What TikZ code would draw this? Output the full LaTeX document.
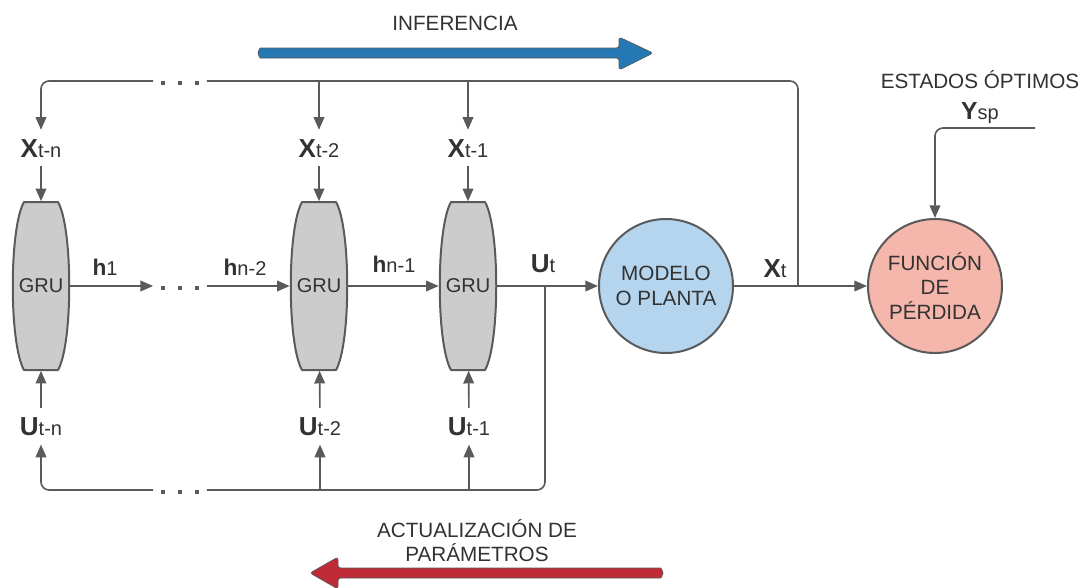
\documentclass[tikz,border=0pt]{standalone}
\usepackage{fontspec}
\setmainfont{Liberation Sans}
\usetikzlibrary{arrows.meta,calc,backgrounds}

\definecolor{wire}{RGB}{90,90,90}
\definecolor{ink}{RGB}{50,50,50}
\definecolor{grufill}{RGB}{204,204,204}
\definecolor{plantfill}{RGB}{181,213,238}
\definecolor{lossfill}{RGB}{245,182,171}
\definecolor{infblue}{RGB}{38,120,180}
\definecolor{updred}{RGB}{190,42,54}

% bold variable with a plain subscript on the same baseline
\newcommand{\varlab}[2]{{\fontsize{19.5}{21}\selectfont\bfseries #1}{\fontsize{15}{16}\selectfont #2}}
\newcommand{\hidlab}[2]{{\fontsize{17}{18}\selectfont\bfseries #1}{\fontsize{15}{16}\selectfont #2}}

% barrel-shaped GRU body around a node
\newcommand{\grubody}[1]{%
  \filldraw[fill=grufill, draw=wire, line width=1.5pt, line join=round]
    ([shift={(-17,-84)}]#1.center) -- ([shift={(17,-84)}]#1.center)
    .. controls ([shift={(32,-58)}]#1.center) and ([shift={(32,58)}]#1.center) .. ([shift={(17,84)}]#1.center)
    -- ([shift={(-17,84)}]#1.center)
    .. controls ([shift={(-32,58)}]#1.center) and ([shift={(-32,-58)}]#1.center) .. cycle;}

% three square dots inside an ellipsis node
\newcommand{\threedots}[1]{%
  \foreach \dx in {-17,0,17}{\fill[wire] ($(#1.center)+(\dx,2)$) +(-2.4,-2.4) rectangle +(2.4,2.4);}}

\begin{document}
\begin{tikzpicture}[x=0.75pt,y=-0.75pt,
  wireline/.style={draw=wire, line width=1.2pt},
  arr/.style={wireline, -{Triangle[length=9.5pt,width=8pt]}},
  lab/.style={inner sep=0pt, outer sep=7pt, text=ink, anchor=base},
  cell/.style={minimum width=42.75pt, minimum height=126pt, inner sep=0pt, outer sep=0.6pt,
               text=ink, font=\fontsize{15}{15}\selectfont},
  blob/.style={circle, draw=wire, line width=1.5pt, minimum size=100.5pt, inner sep=0pt,
               align=center, text=ink, font=\fontsize{15.5}{18.4}\selectfont},
  ellip/.style={minimum width=40pt, minimum height=6pt, inner sep=0pt},
  ttl/.style={text=ink, font=\fontsize{15.5}{18}\selectfont, inner sep=0pt, anchor=base},
  bigarrow/.style={draw=wire, line width=0.5pt, line join=round, rounded corners=2}]

\useasboundingbox (0,0) rectangle (1086,587);

% GRU cells
\node[cell] (gru1) at (41,286) {GRU};
\node[cell] (gru2) at (319,286) {GRU};
\node[cell] (gru3) at (468,286) {GRU};
\begin{scope}[on background layer]
  \fill[white] (0,0) rectangle (1086,587);
  \grubody{gru1}\grubody{gru2}\grubody{gru3}
\end{scope}

% plant and loss
\node[blob, fill=plantfill] (plant) at (666,286) {MODELO\\O PLANTA};
\node[blob, fill=lossfill] (loss) at (935,286) {FUNCIÓN\\DE\\PÉRDIDA};

% input labels
\node[lab] (x1) at (41,157) {\varlab{X}{t-n}};
\node[lab] (x2) at (319,157) {\varlab{X}{t-2}};
\node[lab] (x3) at (468,157) {\varlab{X}{t-1}};
\node[lab] (u1) at (41,435) {\varlab{U}{t-n}};
\node[lab] (u2) at (320,435) {\varlab{U}{t-2}};
\node[lab] (u3) at (469,435) {\varlab{U}{t-1}};

% hidden-state and output labels
\node[lab] (h1) at (105,275) {\hidlab{h}{1}};
\node[lab] (h2) at (245,275) {\hidlab{h}{n-2}};
\node[lab] (h3) at (394,272) {\hidlab{h}{n-1}};
\node[lab] (ut) at (543,272) {\varlab{U}{t}};
\node[lab] (xt) at (775,277) {\varlab{X}{t}};

% ellipses
\node[ellip] (dt) at (180,81) {};
\node[ellip] (dh) at (180,286) {};
\node[ellip] (db) at (180,490) {};
\threedots{dt}\threedots{dh}\threedots{db}

% junctions and free ends
\coordinate (ju) at (545,286);
\coordinate (jx) at (798,286);
\coordinate (ys) at (1035,128);

% forward chain
\draw[arr] (gru1) -- (dh);
\draw[arr] (dh) -- (gru2);
\draw[arr] (gru2) -- (gru3);
\draw[arr] (gru3) -- (plant);
\draw[arr] (plant) -- (loss);

% state feedback along the top
\draw[wireline, rounded corners=6] (jx) |- (dt.east);
\draw[arr, rounded corners=6] (dt.west) -| (x1.north);
\draw[arr] (x2.north |- dt) -- (x2);
\draw[arr] (x3.north |- dt) -- (x3);
\draw[arr] (x1) -- (gru1);
\draw[arr] (x2) -- (gru2);
\draw[arr] (x3) -- (gru3);

% control feedback along the bottom
\draw[wireline, rounded corners=6] (ju) |- (db.east);
\draw[arr, rounded corners=6] (db.west) -| (u1.south);
\draw[arr] (u2.south |- db) -- (u2);
\draw[arr] (u3.south |- db) -- (u3);
\draw[arr] (u1) -- (gru1);
\draw[arr] (u2) -- (gru2);
\draw[arr] (u3) -- (gru3);

% set-point input
\node[ttl] (opt) at (980,88) {ESTADOS ÓPTIMOS};
\node[lab, outer sep=0pt] (ysp) at (980,119) {\hidlab{\fontsize{18.5}{20}\selectfont Y}{sp}};
\draw[arr, rounded corners=6] (ys) -| (loss);

% direction arrows
\node[ttl] (inf) at (455,30) {INFERENCIA};
\filldraw[bigarrow, fill=infblue]
  (263,58) arc[start angle=90, end angle=270, radius=5]
  -- (619,48) -- (619,37) -- (653,53) -- (619,70) -- (619,58) -- cycle;

\node[ttl] (upd1) at (477,537) {ACTUALIZACIÓN DE};
\node[ttl] (upd2) at (477,561) {PARÁMETROS};
\filldraw[bigarrow, fill=updred]
  (658,568) arc[start angle=270, end angle=450, radius=5]
  -- (338,578) -- (338,589) -- (310,573) -- (338,557) -- (338,568) -- cycle;
\end{tikzpicture}
\end{document}
